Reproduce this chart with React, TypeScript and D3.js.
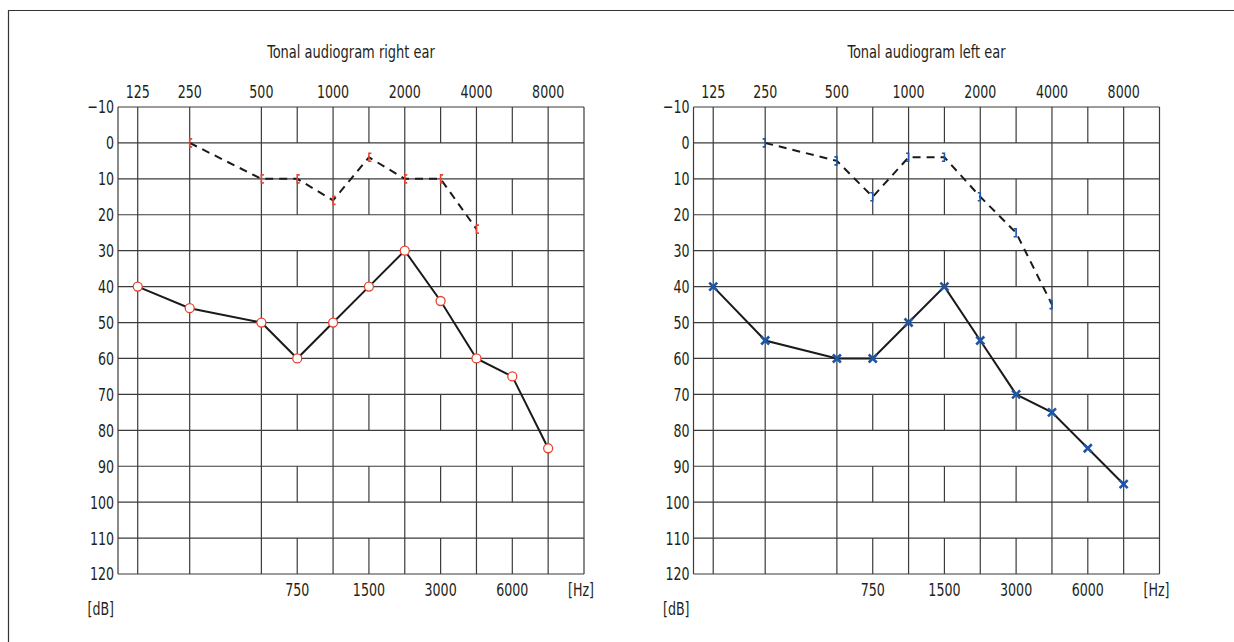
import { useEffect, useRef } from 'react';
import * as d3 from 'd3';

// frequency positions on the audiogram (in grid cells from the left edge)
const frequencies = [125, 250, 500, 750, 1000, 1500, 2000, 3000, 4000, 6000, 8000];
const freqSlots = [0.55, 2, 4, 5, 6, 7, 8, 9, 10, 11, 12];
const topFreqLabels = [125, 250, 500, 1000, 2000, 4000, 8000];
const bottomFreqLabels = [750, 1500, 3000, 6000];
const dbTicks = [-10, 0, 10, 20, 30, 40, 50, 60, 70, 80, 90, 100, 110, 120];

// right ear
const rightAir = [40, 46, 50, 60, 50, 40, 30, 44, 60, 65, 85];
const boneFreqs = [250, 500, 750, 1000, 1500, 2000, 3000, 4000];
const rightBone = [0, 10, 10, 16, 4, 10, 10, 24];

// left ear
const leftAir = [40, 55, 60, 60, 50, 40, 55, 70, 75, 85, 95];
const leftBone = [0, 5, 15, 4, 4, 15, 25, 45];

const FONT = "'Liberation Sans Narrow', 'DejaVu Sans Condensed', sans-serif";
const TEXT = '#231f20';
const RED = '#e8432e';
const BLUE = '#1d56a6';
const GRID = '#3b3b3b';

const W = 1234;
const H = 642;
const GRID_W = 466;
const GRID_TOP = 107;
const GRID_BOTTOM = 574;

// condensed-looking text: squeeze horizontally around the anchor point
function label(g, x, y, str, anchor, size, sx, dy = 0) {
  return g.append('text')
    .attr('transform', `translate(${x},${y}) scale(${sx},1)`)
    .attr('dy', dy)
    .attr('text-anchor', anchor)
    .attr('fill', TEXT)
    .style('font-family', FONT)
    .style('font-size', `${size}px`)
    .text(str);
}

function drawPanel(svg, x0, title, air, bone, ear) {
  const slotOf = d3.scaleOrdinal().domain(frequencies).range(freqSlots);
  const x = d3.scaleLinear().domain([0, 13]).range([x0, x0 + GRID_W]);
  const fx = (f) => x(slotOf(f));
  const y = d3.scaleLinear().domain([-10, 120]).range([GRID_TOP, GRID_BOTTOM]);

  const g = svg.append('g');

  // horizontal grid
  g.selectAll('line.h')
    .data(dbTicks)
    .join('line')
    .attr('x1', x(0))
    .attr('x2', x(13))
    .attr('y1', (d) => y(d))
    .attr('y2', (d) => y(d))
    .attr('stroke', GRID)
    .attr('stroke-width', 1.2);

  // full-height verticals: edges and octave frequencies
  const fullX = [x(0), x(13), ...topFreqLabels.map(fx)];
  g.selectAll('line.v')
    .data(fullX)
    .join('line')
    .attr('x1', (d) => d)
    .attr('x2', (d) => d)
    .attr('y1', y(-10))
    .attr('y2', y(120))
    .attr('stroke', GRID)
    .attr('stroke-width', 1.2);

  // half-octave verticals only in every other row
  const rows = dbTicks.slice(0, -1).filter((d, i) => i % 2 === 0);
  rows.forEach((r) => {
    bottomFreqLabels.forEach((f) => {
      g.append('line')
        .attr('x1', fx(f))
        .attr('x2', fx(f))
        .attr('y1', y(r))
        .attr('y2', y(r + 10))
        .attr('stroke', GRID)
        .attr('stroke-width', 1.2);
    });
  });

  label(g, (x(0) + x(13)) / 2, 58, title, 'middle', 17, 0.85);

  topFreqLabels.forEach((f) => label(g, fx(f), 98, f, 'middle', 18, 0.78));
  bottomFreqLabels.forEach((f) => label(g, fx(f), 596, f, 'middle', 18, 0.78));
  label(g, x(13) - 3, 596, '[Hz]', 'middle', 18, 0.78);

  dbTicks.forEach((d) => {
    label(g, x(0) - 4, y(d), d < 0 ? `\u2212${-d}` : d, 'end', 18, 0.78, '0.36em');
  });
  label(g, x(0) - 4, 615, '[dB]', 'end', 18, 0.78);

  const airPts = frequencies.map((f, i) => [fx(f), y(air[i])]);
  const bonePts = boneFreqs.map((f, i) => [fx(f), y(bone[i])]);
  const line = d3.line();

  g.append('path')
    .attr('d', line(bonePts))
    .attr('fill', 'none')
    .attr('stroke', '#1a1a1a')
    .attr('stroke-width', 2)
    .attr('stroke-dasharray', '8,6');

  g.append('path')
    .attr('d', line(airPts))
    .attr('fill', 'none')
    .attr('stroke', '#1a1a1a')
    .attr('stroke-width', 2);

  // bone conduction brackets
  const color = ear === 'right' ? RED : BLUE;
  const dir = ear === 'right' ? 1 : -1;
  g.selectAll('path.bone')
    .data(bonePts)
    .join('path')
    .attr('d', ([px, py]) => `M${px + 2.5 * dir},${py - 4}H${px}V${py + 4}H${px + 2.5 * dir}`)
    .attr('fill', 'none')
    .attr('stroke', color)
    .attr('stroke-width', 1.6);

  if (ear === 'right') {
    g.selectAll('circle.air')
      .data(airPts)
      .join('circle')
      .attr('cx', (d) => d[0])
      .attr('cy', (d) => d[1])
      .attr('r', 4.5)
      .attr('fill', '#fff')
      .attr('stroke', RED)
      .attr('stroke-width', 1.3);
  } else {
    const s = 4;
    g.selectAll('path.air')
      .data(airPts)
      .join('path')
      .attr('d', ([px, py]) => `M${px - s},${py - s}L${px + s},${py + s}M${px - s},${py + s}L${px + s},${py - s}`)
      .attr('fill', 'none')
      .attr('stroke', BLUE)
      .attr('stroke-width', 2.6);
  }
}

export default function App() {
  const svgRef = useRef(null);

  useEffect(() => {
    const svg = d3.select(svgRef.current);
    svg.selectAll('*').remove();

    svg.append('rect').attr('width', W).attr('height', H).attr('fill', '#fff');

    // outer frame (runs off the right and bottom)
    svg.append('path')
      .attr('d', `M8.5,${H}V10.5H${W}`)
      .attr('fill', 'none')
      .attr('stroke', '#333')
      .attr('stroke-width', 1.2);

    drawPanel(svg, 118, 'Tonal audiogram right ear', rightAir, rightBone, 'right');
    drawPanel(svg, 693.5, 'Tonal audiogram left ear', leftAir, leftBone, 'left');
  }, []);

  return (
    <div style={{ position: 'absolute', left: 0, top: 0 }}>
      <svg ref={svgRef} width={W} height={H} style={{ display: 'block' }}></svg>
    </div>
  );
}
